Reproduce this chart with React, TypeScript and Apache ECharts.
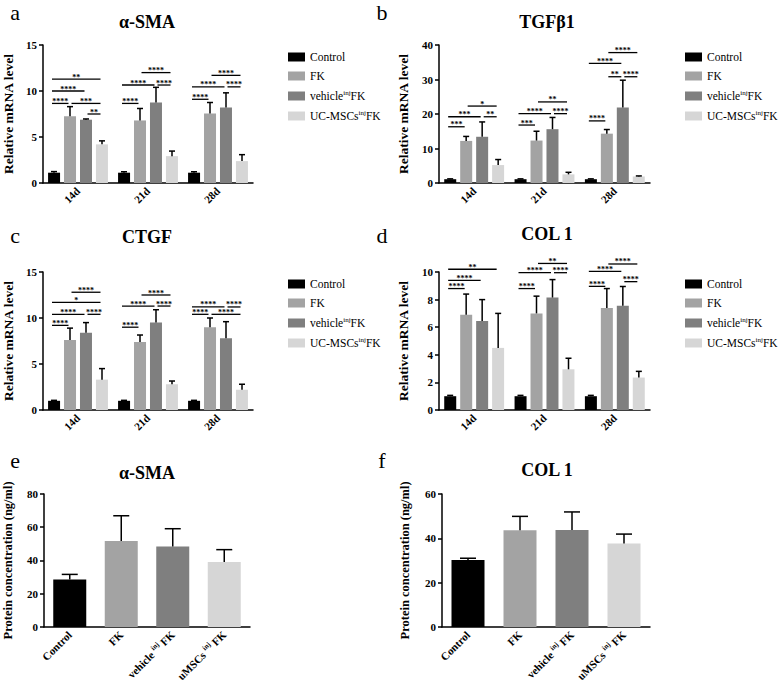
import React, { useEffect, useRef } from 'react';
import * as echarts from 'echarts';

const FONT = 'Liberation Serif';

const timepoints = ['14d', '21d', '28d'];
const groups = ['Control', 'FK', 'vehicleinjFK', 'UC-MSCsinjFK'];
const groupColors = ['#000000', '#a3a3a3', '#7f7f7f', '#d6d6d6'];
const proteinGroups = ['Control', 'FK', 'vehicleinjFK', 'uMSCsinjFK'];

// rows = groups (Control, FK, vehicle, UC-MSCs), cols = timepoints
const smaMean = [[1.12, 1.12, 1.12], [7.25, 6.8, 7.55], [6.88, 8.75, 8.2], [4.2, 2.92, 2.38]];
const smaErr = [[0.12, 0.1, 0.1], [1.05, 1.3, 1.2], [0.08, 1.65, 1.6], [0.38, 0.55, 0.7]];
// [timepoint, fromGroup, toGroup, height, stars]
const smaSig = [
  [0, 0, 3, 11.3, 2], [0, 0, 2, 10.0, 4], [0, 0, 1, 8.65, 4], [0, 1, 3, 8.65, 3], [0, 2, 3, 7.5, 2],
  [1, 1, 3, 12.0, 4], [1, 0, 2, 10.65, 4], [1, 2, 3, 10.65, 4], [1, 0, 1, 8.65, 4],
  [2, 1, 3, 11.7, 4], [2, 0, 2, 10.45, 4], [2, 2, 3, 10.45, 4], [2, 0, 1, 9.1, 4],
];

const tgfMean = [[1.1, 1.1, 1.1], [12.2, 12.3, 14.3], [13.4, 15.6, 21.9], [5.2, 2.5, 1.9]];
const tgfErr = [[0.1, 0.1, 0.1], [1.3, 2.7, 1.2], [4.3, 3.4, 7.9], [1.6, 0.6, 0.15]];
const tgfSig = [
  [0, 0, 1, 16.3, 3], [0, 0, 2, 19.2, 3], [0, 2, 3, 19.2, 2], [0, 1, 3, 22.3, 1],
  [1, 0, 1, 16.8, 3], [1, 0, 2, 20.1, 4], [1, 2, 3, 20.1, 4], [1, 1, 3, 23.5, 2],
  [2, 0, 1, 18.0, 4], [2, 1, 2, 30.8, 2], [2, 2, 3, 30.8, 4], [2, 0, 2, 34.7, 4], [2, 1, 3, 37.8, 4],
];

const ctgfMean = [[1.0, 1.0, 1.0], [7.6, 7.4, 9.0], [8.4, 9.5, 7.8], [3.3, 2.8, 2.2]];
const ctgfErr = [[0.05, 0.05, 0.05], [1.3, 0.75, 1.0], [1.1, 1.4, 1.8], [1.2, 0.35, 0.6]];
const ctgfSig = [
  [0, 0, 1, 9.2, 4], [0, 0, 2, 10.4, 4], [0, 2, 3, 10.4, 4], [0, 0, 3, 11.7, 1], [0, 1, 3, 12.8, 4],
  [1, 0, 1, 9.0, 4], [1, 0, 2, 11.3, 4], [1, 2, 3, 11.3, 4], [1, 1, 3, 12.5, 4],
  [2, 0, 1, 10.4, 4], [2, 1, 3, 10.4, 4], [2, 0, 2, 11.2, 4], [2, 2, 3, 11.2, 4],
];

const colMean = [[1.0, 1.0, 1.0], [6.9, 7.0, 7.4], [6.45, 8.15, 7.55], [4.5, 2.95, 2.35]];
const colErr = [[0.06, 0.06, 0.06], [1.5, 1.25, 1.4], [1.55, 1.3, 1.4], [2.5, 0.8, 0.45]];
const colSig = [
  [0, 0, 1, 8.8, 4], [0, 0, 2, 9.4, 4], [0, 0, 3, 10.2, 2],
  [1, 0, 1, 8.8, 4], [1, 0, 2, 9.95, 4], [1, 2, 3, 9.95, 4], [1, 1, 3, 10.62, 2],
  [2, 0, 1, 8.96, 4], [2, 0, 2, 10.05, 4], [2, 2, 3, 9.3, 4], [2, 1, 3, 10.58, 4],
];

const smaProtein = [28.5, 51.7, 48.4, 39.1];
const smaProteinErr = [3.1, 15.2, 10.7, 7.4];
const colProtein = [30.2, 43.6, 43.8, 37.6];
const colProteinErr = [0.8, 6.3, 8.1, 4.3];

const richGroup = (name: string, spaced = false) => {
  const m = name.match(/^(.*)inj(.*)$/);
  if (!m) return `{n|${name}}`;
  return spaced ? `{n|${m[1]} }{s|inj}{n| ${m[2]}}` : `{n|${m[1]}}{s|inj}{n|${m[2]}}`;
};

function errRender(n: number, spacing: number, cap: number) {
  return (params: any, api: any) => {
    const cat = api.value(0), bar = api.value(1), v = api.value(2), e = api.value(3);
    const p0 = api.coord([cat, v]);
    const p1 = api.coord([cat, v + e]);
    const x = p0[0] + (bar - (n - 1) / 2) * spacing;
    const st = { stroke: '#000', lineWidth: 1.5 };
    return {
      type: 'group',
      children: [
        { type: 'line', shape: { x1: x, y1: p0[1], x2: x, y2: p1[1] }, style: st },
        { type: 'line', shape: { x1: x - cap / 2, y1: p1[1], x2: x + cap / 2, y2: p1[1] }, style: st },
      ],
    };
  };
}

function sigRender(spacing: number) {
  return (params: any, api: any) => {
    const cat = api.value(0), a = api.value(1), b = api.value(2), y = api.value(3), k = api.value(4);
    const c = api.coord([cat, y]);
    const xa = c[0] + (a - 1.5) * spacing + (a === 0 ? -2 : 1.5);
    const xb = c[0] + (b - 1.5) * spacing - 1.5;
    const stars = '*'.repeat(k);
    return {
      type: 'group',
      children: [
        { type: 'line', shape: { x1: xa, y1: c[1], x2: xb, y2: c[1] }, style: { stroke: '#000', lineWidth: 1.3 } },
        {
          type: 'text', x: (xa + xb) / 2, y: c[1] + 2,
          style: { text: stars, font: `bold 8px ${FONT}`, fill: '#000', align: 'center', verticalAlign: 'bottom', textAlign: 'center', textVerticalAlign: 'bottom' },
        },
      ],
    };
  };
}

const gridsPos = [
  { left: 43, top: 45, width: 210, height: 138 },
  { left: 439, top: 45, width: 211, height: 138 },
  { left: 43, top: 272, width: 210, height: 138 },
  { left: 439, top: 272, width: 211, height: 138 },
  { left: 43, top: 494, width: 207, height: 138 },
  { left: 442, top: 494, width: 208, height: 138 },
];
const yMax = [15, 40, 15, 10, 80, 60];
const yInterval = [5, 10, 5, 2, 20, 20];
const yNameGap = [28, 29, 28, 29, 30, 31];
const titles = [
  { text: 'α-SMA', x: 147, y: 22 }, { text: 'TGFβ1', x: 547, y: 22 },
  { text: 'CTGF', x: 147, y: 237 }, { text: 'COL 1', x: 547, y: 234 },
  { text: 'α-SMA', x: 147, y: 473 }, { text: 'COL 1', x: 547, y: 470 },
];
const letters = [
  { text: 'a', x: 15, y: 12 }, { text: 'b', x: 382, y: 12 },
  { text: 'c', x: 15, y: 235 }, { text: 'd', x: 382, y: 235 },
  { text: 'e', x: 15, y: 460 }, { text: 'f', x: 382, y: 460 },
];
const legendPos = [
  { left: 283, top: 46 }, { left: 680, top: 46 }, { left: 283, top: 273 }, { left: 680, top: 273 },
];

function buildOption() {
  const axisColor = { color: '#000', width: 1.5 };
  const labelStyle = { fontFamily: FONT, fontWeight: 'bold', fontSize: 11, color: '#000' };
  const rich = {
    n: { fontFamily: FONT, fontSize: 11.5, color: '#000', lineHeight: 14 },
    s: { fontFamily: FONT, fontSize: 7, color: '#000', lineHeight: 6, verticalAlign: 'top' },
  };
  const richBold = {
    n: { fontFamily: FONT, fontWeight: 'bold', fontSize: 11, color: '#000', lineHeight: 13 },
    s: { fontFamily: FONT, fontWeight: 'bold', fontSize: 7, color: '#000', lineHeight: 5, verticalAlign: 'top' },
  };

  const xAxis: any[] = [];
  const yAxis: any[] = [];
  for (let i = 0; i < 6; i++) {
    const protein = i >= 4;
    xAxis.push({
      type: 'category', gridIndex: i,
      data: protein ? proteinGroups : timepoints,
      axisLine: { lineStyle: axisColor },
      axisTick: { alignWithLabel: true, length: 4, lineStyle: axisColor },
      axisLabel: protein
        ? { rotate: 45, margin: 6, formatter: (v: string) => richGroup(v, true), rich: richBold, ...labelStyle }
        : { rotate: 45, margin: 6, ...labelStyle },
    });
    yAxis.push({
      type: 'value', gridIndex: i, min: 0, max: yMax[i], interval: yInterval[i],
      name: protein ? 'Protein concentration (ng/ml)' : 'Relative mRNA level',
      nameLocation: 'middle', nameGap: yNameGap[i],
      nameTextStyle: { fontFamily: FONT, fontWeight: 'bold', fontSize: protein ? 12.5 : 13.5, color: '#000' },
      axisLine: { show: true, lineStyle: axisColor },
      axisTick: { show: true, length: 4, lineStyle: axisColor },
      axisLabel: { margin: 6, ...labelStyle },
      splitLine: { show: false },
    });
  }

  const series: any[] = [];
  const mrna = [
    { mean: smaMean, err: smaErr, sig: smaSig },
    { mean: tgfMean, err: tgfErr, sig: tgfSig },
    { mean: ctgfMean, err: ctgfErr, sig: ctgfSig },
    { mean: colMean, err: colErr, sig: colSig },
  ];
  mrna.forEach((p, i) => {
    groups.forEach((g, gi) => {
      series.push({
        type: 'bar', name: g, xAxisIndex: i, yAxisIndex: i,
        data: p.mean[gi], barWidth: 12, barGap: '33%',
        itemStyle: { color: groupColors[gi] }, silent: true,
      });
    });
    const errData: number[][] = [];
    groups.forEach((g, gi) => timepoints.forEach((t, ti) => errData.push([ti, gi, p.mean[gi][ti], p.err[gi][ti]])));
    series.push({
      type: 'custom', xAxisIndex: i, yAxisIndex: i, renderItem: errRender(4, 16, 6),
      data: errData, encode: { x: 0, y: 2 }, clip: false, z: 5, silent: true,
    });
    series.push({
      type: 'custom', xAxisIndex: i, yAxisIndex: i, renderItem: sigRender(16),
      data: p.sig, encode: { x: 0, y: 3 }, clip: false, z: 5, silent: true,
    });
  });

  const prot = [
    { mean: smaProtein, err: smaProteinErr },
    { mean: colProtein, err: colProteinErr },
  ];
  prot.forEach((p, k) => {
    const i = 4 + k;
    series.push({
      type: 'bar', name: 'protein' + k, xAxisIndex: i, yAxisIndex: i, barWidth: 33,
      data: p.mean.map((v, gi) => ({ value: v, itemStyle: { color: groupColors[gi] } })), silent: true,
    });
    series.push({
      type: 'custom', xAxisIndex: i, yAxisIndex: i, renderItem: errRender(1, 0, 16),
      data: p.mean.map((v, gi) => [gi, 0, v, p.err[gi]]), encode: { x: 0, y: 2 }, clip: false, z: 5, silent: true,
    });
  });

  const legend = legendPos.map((lp) => ({
    left: lp.left, top: lp.top, orient: 'vertical', icon: 'rect',
    itemWidth: 17, itemHeight: 9, itemGap: 7, selectedMode: false,
    data: groups,
    formatter: (name: string) => richGroup(name),
    textStyle: { fontFamily: FONT, fontSize: 11.5, color: '#000', rich },
  }));

  const graphic: any[] = [];
  titles.forEach((t) => graphic.push({
    type: 'text', x: t.x, y: t.y,
    style: { text: t.text, font: `bold 18px ${FONT}`, fill: '#000', align: 'center', verticalAlign: 'middle', textAlign: 'center', textVerticalAlign: 'middle' },
  }));
  letters.forEach((t) => graphic.push({
    type: 'text', x: t.x, y: t.y,
    style: { text: t.text, font: `22px ${FONT}`, fill: '#000', align: 'center', verticalAlign: 'middle', textAlign: 'center', textVerticalAlign: 'middle' },
  }));

  return {
    animation: false,
    backgroundColor: '#fff',
    textStyle: { fontFamily: FONT },
    grid: gridsPos,
    xAxis, yAxis, series, legend, graphic,
  };
}

export default function App() {
  const ref = useRef<HTMLDivElement>(null);
  useEffect(() => {
    if (!ref.current) return;
    const chart = echarts.init(ref.current, null, { renderer: 'svg' });
    chart.setOption(buildOption() as any);
    return () => chart.dispose();
  }, []);
  return <div ref={ref} style={{ position: 'absolute', left: 0, top: 0, width: 778, height: 684 }} />;
}
